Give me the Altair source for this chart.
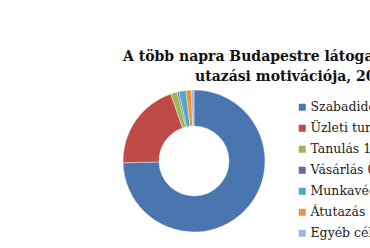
import altair as alt
import pandas as pd

categories = ["Szabadidő 74,6%", "Üzleti turizmus 20,1%", "Tanulás 1,5%", "Vásárlás 0,4%",
              "Munkavégzés 1,6%", "Átutazás 1,2%", "Egyéb cél 0,6%"]
values = [74.6, 20.1, 1.5, 0.4, 1.6, 1.2, 0.6]
colors = ["#4A76B0", "#BE4B48", "#98B954", "#7B5EA0", "#4AACC5", "#F29142", "#A0B5DC"]
title_lines = ["A több napra Budapestre látogató külföldiek", "utazási motivációja, 2013"]

df = pd.DataFrame({"cat": categories, "val": values, "ord": list(range(len(values)))})

W, H = 370, 248

donut = alt.Chart(df).mark_arc(innerRadius=35, outerRadius=71, stroke="white", strokeWidth=0.4).encode(
    theta=alt.Theta("val:Q", stack=True),
    order=alt.Order("ord:Q"),
    color=alt.Color("cat:N", scale=alt.Scale(domain=categories, range=colors),
                    sort=categories,
                    legend=alt.Legend(title=None, orient="none", legendX=296, legendY=101,
                                      symbolType="square", symbolSize=49, symbolStrokeWidth=0,
                                      labelFont="DejaVu Serif", labelFontSize=12.5, labelColor="#222",
                                      rowPadding=8, labelOffset=2, labelLimit=400)),
    x=alt.value(194), y=alt.value(161),
)

tdf = pd.DataFrame({"t": title_lines, "x": [123, 195], "y": [57, 77]})
title = alt.Chart(tdf).mark_text(align="left", baseline="middle", font="DejaVu Serif",
                                 fontWeight="bold", fontSize=14, color="#111").encode(
    text="t:N",
    x=alt.X("x:Q", scale=alt.Scale(domain=[0, W], range=[0, W]), axis=None),
    y=alt.Y("y:Q", scale=alt.Scale(domain=[0, H], range=[0, H]), axis=None),
)

chart = alt.layer(donut, title).properties(
    width=W, height=H, padding=0, autosize=alt.AutoSizeParams(type="none")
).configure_view(stroke=None)

chart.save("out.html", embed_options={"renderer": "svg", "actions": False})
